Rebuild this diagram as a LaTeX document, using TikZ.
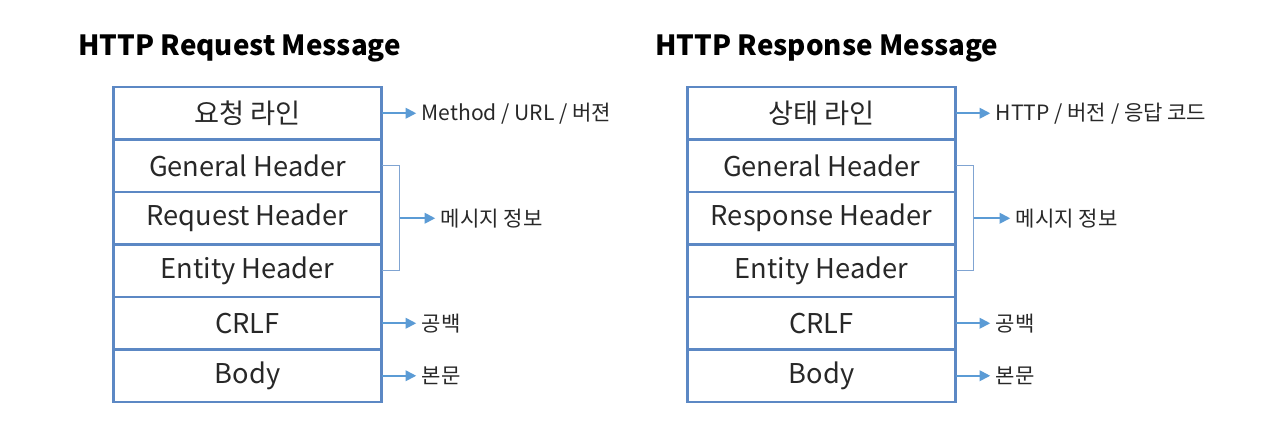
\documentclass[tikz,border=0pt]{standalone}
\usepackage{fontspec}
\setmainfont{Noto Sans CJK KR}
\usetikzlibrary{arrows.meta, positioning}
\definecolor{boxblue}{RGB}{92,136,196}
\definecolor{arrowblue}{RGB}{91,155,213}
\definecolor{brkblue}{RGB}{128,164,210}
\definecolor{txtgray}{RGB}{40,40,40}

\begin{document}
\begin{tikzpicture}[
      row/.style={draw=boxblue, line width=1.3pt, minimum width=5.36cm,
                  minimum height=1.05cm, inner sep=0pt, outer sep=0pt,
                  text=txtgray, font=\fontsize{15.5}{18}\selectfont},
      title/.style={anchor=west, inner sep=0pt, font=\fontsize{15.8}{19}\selectfont\bfseries, text=black},
      lbl/.style={anchor=west, inner sep=0pt, text=txtgray, font=\fontsize{12}{14}\selectfont},
      arrow/.style={-{Triangle[length=6pt, width=6pt]}, line width=1pt, arrowblue},
      brk/.style={line width=0.8pt, brkblue}
    ]
    \useasboundingbox (0,0) rectangle (25.72,-8.88);

    % Request side
    \node[title] (reqT) at (1.56,-0.96) {HTTP Request Message};
    \node[row] (req1) at (4.95,-2.265) {요청 라인};
    \node[row, below=0pt of req1] (req2) {General Header};
    \node[row, below=0pt of req2] (req3) {Request Header};
    \node[row, below=0pt of req3] (req4) {Entity Header};
    \node[row, below=0pt of req4] (req5) {CRLF};
    \node[row, below=0pt of req5] (req6) {Body};

    \node[lbl, right=0.8cm of req1] (reqL1) {Method / URL / 버젼};
    \node[lbl, right=1.18cm of req3] (reqL2) {메시지 정보};
    \node[lbl, right=0.8cm of req5] (reqL3) {공백};
    \node[lbl, right=0.8cm of req6] (reqL4) {본문};

    \draw[brk] (req2.east) -- ++(0.36,0) |- (req4.east);
    \coordinate[right=0.36cm of req3.east] (reqB);
    \foreach \a/\b in {req1/reqL1, reqB/reqL2, req5/reqL3, req6/reqL4}
      \draw[arrow] (\a) -- ([xshift=-3pt]\b.west);

    % Response side
    \node[title] (resT) at (13.1,-0.96) {HTTP Response Message};
    \node[row] (res1) at (16.43,-2.265) {상태 라인};
    \node[row, below=0pt of res1] (res2) {General Header};
    \node[row, below=0pt of res2] (res3) {Response Header};
    \node[row, below=0pt of res3] (res4) {Entity Header};
    \node[row, below=0pt of res4] (res5) {CRLF};
    \node[row, below=0pt of res5] (res6) {Body};

    \node[lbl, right=0.8cm of res1] (resL1) {HTTP / 버전 / 응답 코드};
    \node[lbl, right=1.2cm of res3] (resL2) {메시지 정보};
    \node[lbl, right=0.8cm of res5] (resL3) {공백};
    \node[lbl, right=0.8cm of res6] (resL4) {본문};

    \draw[brk] (res2.east) -- ++(0.36,0) |- (res4.east);
    \coordinate[right=0.36cm of res3.east] (resB);
    \foreach \a/\b in {res1/resL1, resB/resL2, res5/resL3, res6/resL4}
      \draw[arrow] (\a) -- ([xshift=-3pt]\b.west);
  \end{tikzpicture}
\end{document}
